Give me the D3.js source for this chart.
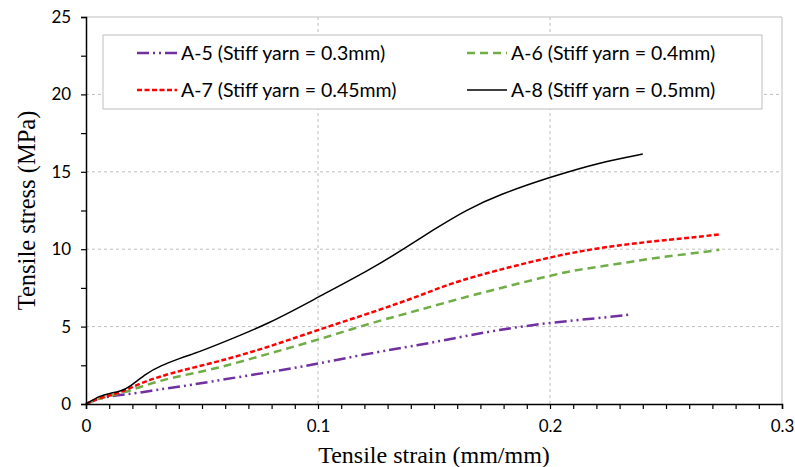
<!DOCTYPE html>
<html>
<head>
<meta charset="utf-8">
<script src="https://cdn.jsdelivr.net/npm/d3@7"></script>
<style>
  body { margin: 0; background: #fff; }
  svg { display: block; }
</style>
</head>
<body>
<div id="chart"></div>
<script>
// strain (mm/mm) and stress (MPa)
const a5Strain = [0, 0.006, 0.0147, 0.023, 0.032, 0.0405, 0.058, 0.0865, 0.0995, 0.1224, 0.144, 0.157, 0.178, 0.2, 0.2216, 0.2337];
const a5Stress = [0, 0.4, 0.58, 0.73, 0.95, 1.12, 1.55, 2.24, 2.59, 3.28, 3.82, 4.2, 4.8, 5.26, 5.56, 5.76];

const a6Strain = [0, 0.006, 0.0147, 0.023, 0.032, 0.0405, 0.058, 0.0793, 0.1, 0.1224, 0.144, 0.164, 0.2, 0.2115, 0.236, 0.2474, 0.265, 0.273];
const a6Stress = [0, 0.4, 0.65, 1.08, 1.51, 1.81, 2.35, 3.28, 4.14, 5.22, 6.08, 6.94, 8.3, 8.67, 9.2, 9.49, 9.79, 9.96];

const a7Strain = [0, 0.006, 0.0147, 0.023, 0.032, 0.0405, 0.058, 0.0793, 0.1, 0.1224, 0.144, 0.157, 0.178, 0.2, 0.2216, 0.2474, 0.265, 0.273];
const a7Stress = [0, 0.42, 0.69, 1.34, 1.77, 2.15, 2.77, 3.71, 4.79, 5.87, 6.99, 7.8, 8.67, 9.49, 10.12, 10.56, 10.82, 10.95];

const a8Strain = [0, 0.006, 0.0103, 0.0147, 0.019, 0.026, 0.032, 0.0405, 0.049, 0.058, 0.0793, 0.1, 0.1224, 0.1368, 0.1497, 0.164, 0.178, 0.2, 0.2216, 0.24];
const a8Stress = [0, 0.54, 0.69, 0.8, 1.12, 1.98, 2.46, 2.96, 3.38, 3.92, 5.22, 6.9, 8.67, 10.0, 11.25, 12.55, 13.52, 14.66, 15.61, 16.15];

const seriesNames = ["A-5 (Stiff yarn = 0.3mm)", "A-6 (Stiff yarn = 0.4mm)", "A-7 (Stiff yarn = 0.45mm)", "A-8 (Stiff yarn = 0.5mm)"];
const xTicks = [0, 0.1, 0.2, 0.3];
const yTicks = [0, 5, 10, 15, 20, 25];

const series = [
  { name: seriesNames[0], x: a5Strain, y: a5Stress, color: "#7030A0", dash: "12,4,2,4,2,4", w: 2.5 },
  { name: seriesNames[1], x: a6Strain, y: a6Stress, color: "#70AD47", dash: "8,5", w: 2.5 },
  { name: seriesNames[2], x: a7Strain, y: a7Stress, color: "#FF0000", dash: "5,2.5", w: 2.5 },
  { name: seriesNames[3], x: a8Strain, y: a8Stress, color: "#000000", dash: null, w: 1.5 }
];

const width = 795;
const height = 467;
const margin = { top: 17, right: 13, bottom: 63, left: 86 };
const innerWidth = width - margin.left - margin.right;
const innerHeight = height - margin.top - margin.bottom;

const svg = d3.select("#chart").append("svg")
  .attr("width", width)
  .attr("height", height);

const g = svg.append("g")
  .attr("transform", `translate(${margin.left},${margin.top})`);

const x = d3.scaleLinear().domain([0, 0.3]).range([0, innerWidth]);
const y = d3.scaleLinear().domain([0, 25]).range([innerHeight, 0]);

// grid lines
g.selectAll(".hgrid")
  .data(yTicks.slice(1, -1))
  .enter().append("line")
  .attr("x1", 0).attr("x2", innerWidth)
  .attr("y1", d => y(d)).attr("y2", d => y(d))
  .attr("stroke", "#BFBFBF").attr("stroke-dasharray", "3,3");

g.selectAll(".vgrid")
  .data(xTicks.slice(1, -1))
  .enter().append("line")
  .attr("x1", d => x(d)).attr("x2", d => x(d))
  .attr("y1", 0).attr("y2", innerHeight)
  .attr("stroke", "#BFBFBF").attr("stroke-dasharray", "3,3");

// plot border (top/right)
g.append("path")
  .attr("d", `M0,0H${innerWidth}V${innerHeight}`)
  .attr("fill", "none").attr("stroke", "#BFBFBF");

// legend box
const legend = g.append("g").attr("transform", "translate(17,18)");
legend.append("rect")
  .attr("width", 659).attr("height", 74)
  .attr("fill", "#fff").attr("stroke", "#BFBFBF");

const legendPos = [[34, 18], [364, 18], [34, 55], [364, 55]];
series.forEach((s, k) => {
  const [lx, ly] = legendPos[k];
  legend.append("line")
    .attr("x1", lx).attr("x2", lx + 40)
    .attr("y1", ly).attr("y2", ly)
    .attr("stroke", s.color).attr("stroke-width", s.w)
    .attr("stroke-dasharray", s.dash);
  legend.append("text")
    .attr("x", lx + 44).attr("y", ly)
    .attr("dy", "0.35em")
    .attr("font-family", "Lato, 'Liberation Sans', sans-serif")
    .attr("font-size", 19.5)
    .attr("fill", "#000")
    .text(s.name);
});

// curves (basis spline smooths out reading noise)
const line = d3.line()
  .x(d => x(d[0]))
  .y(d => y(d[1]))
  .curve(d3.curveBasis);

g.selectAll(".curve")
  .data(series)
  .enter().append("path")
  .attr("d", s => line(s.x.map((v, i) => [v, s.y[i]])))
  .attr("fill", "none")
  .attr("stroke", s => s.color)
  .attr("stroke-width", s => s.w)
  .attr("stroke-dasharray", s => s.dash);

// axes
const xAxis = d3.axisBottom(x)
  .tickValues(d3.range(0, 0.3001, 0.01))
  .tickSize(5)
  .tickFormat(d => {
    const r = Math.round(d * 100) / 100;
    return xTicks.some(t => Math.abs(t - r) < 1e-9) ? String(r) : "";
  });

const yAxis = d3.axisLeft(y)
  .tickValues(d3.range(0, 25.001, 2.5))
  .tickSize(5)
  .tickFormat(d => (yTicks.includes(d) ? d : ""));

const gx = g.append("g")
  .attr("transform", `translate(0,${innerHeight})`)
  .call(xAxis);
gx.selectAll("text").attr("dy", "1.2em");

const gy = g.append("g").call(yAxis);
gy.selectAll("text").attr("dx", "-0.4em");

[gx, gy].forEach(a => {
  a.select(".domain").attr("stroke", "#000").attr("stroke-width", 1.5);
  a.selectAll(".tick line").attr("stroke", "#000").attr("stroke-width", 1.2);
  a.selectAll("text")
    .attr("font-family", "Lato, 'Liberation Sans', sans-serif")
    .attr("font-size", 17)
    .attr("fill", "#000");
  // drop empty labels on minor ticks
  a.selectAll("text").filter(function () { return this.textContent === ""; }).remove();
});

// axis titles
svg.append("text")
  .attr("x", margin.left + innerWidth / 2)
  .attr("y", 463)
  .attr("text-anchor", "middle")
  .attr("font-family", "'Liberation Serif', serif")
  .attr("font-size", 24)
  .text("Tensile strain (mm/mm)");

svg.append("text")
  .attr("transform", `translate(35,${margin.top + innerHeight / 2}) rotate(-90)`)
  .attr("text-anchor", "middle")
  .attr("font-family", "'Liberation Serif', serif")
  .attr("font-size", 24.5)
  .text("Tensile stress (MPa)");
</script>
</body>
</html>
